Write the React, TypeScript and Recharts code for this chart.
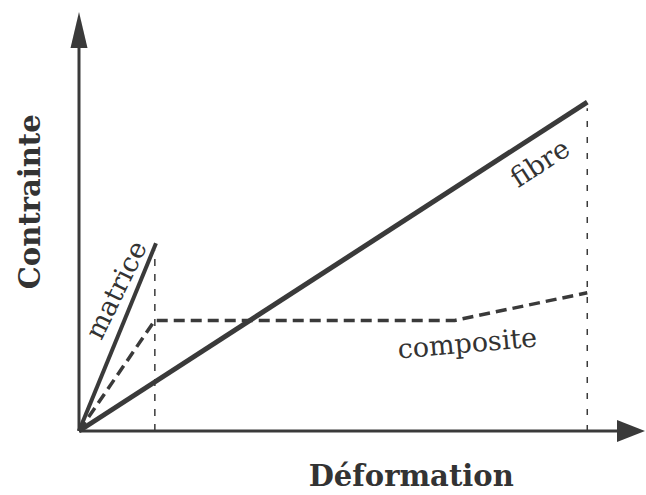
import { ComposedChart, Line, XAxis, YAxis, ReferenceLine, ReferenceDot } from 'recharts'

// strain (x) / stress (y) in arbitrary units
const matrice = [
  { x: 0, y: 0 },
  { x: 1.36, y: 4.48 },
]
const fibre = [
  { x: 0, y: 0 },
  { x: 8.98, y: 7.85 },
]
const composite = [
  { x: 0, y: 0 },
  { x: 1.34, y: 2.64 },
  { x: 6.64, y: 2.64 },
  { x: 8.98, y: 3.3 },
]
const ruptureMatrice = { x: 1.34, yTop: 4.3 }
const ruptureFibre = { x: 8.98, yTop: 7.7 }

const INK = '#3a3a3a'
const SERIF = '"DejaVu Serif", "Liberation Serif", serif'

type Seg = { x1: number; y1: number; x2: number; y2: number }

function ArrowAxis(props: any) {
  const { x1, y1, x2, y2 } = props as Seg
  const dx = x2 - x1
  const dy = y2 - y1
  const len = Math.sqrt(dx * dx + dy * dy) || 1
  const ux = dx / len
  const uy = dy / len
  const headLen = props.headLen ?? 30
  const headW = props.headW ?? 9
  const bx = x2 - ux * headLen
  const by = y2 - uy * headLen
  const px = -uy * headW
  const py = ux * headW
  return (
    <g>
      <line x1={x1} y1={y1} x2={bx} y2={by} stroke={INK} strokeWidth={3} />
      <polygon
        points={`${x2},${y2} ${bx + px},${by + py} ${bx - px},${by - py}`}
        fill={INK}
      />
    </g>
  )
}

function textShape(label: string, angle: number, size: number, bold = false) {
  return (p: any) => (
    <text
      x={p.cx}
      y={p.cy}
      textAnchor="middle"
      dominantBaseline="central"
      transform={`rotate(${angle}, ${p.cx}, ${p.cy})`}
      fontFamily={SERIF}
      fontSize={size}
      fontWeight={bold ? 'bold' : 'normal'}
      fill="#333"
    >
      {label}
    </text>
  )
}

export default function App() {
  return (
    <div style={{ position: 'absolute', left: 0, top: 0, background: '#fff' }}>
      <ComposedChart
        width={646}
        height={495}
        margin={{ top: 12, right: 1, bottom: 64, left: 79 }}
      >
        <XAxis type="number" dataKey="x" domain={[0, 10]} hide />
        <YAxis type="number" dataKey="y" domain={[0, 10]} hide />

        <ReferenceLine
          segment={[{ x: ruptureMatrice.x, y: 0 }, { x: ruptureMatrice.x, y: ruptureMatrice.yTop }]}
          stroke={INK}
          strokeWidth={1.5}
          strokeDasharray="7 8"
        />
        <ReferenceLine
          segment={[{ x: ruptureFibre.x, y: 0 }, { x: ruptureFibre.x, y: ruptureFibre.yTop }]}
          stroke={INK}
          strokeWidth={1.5}
          strokeDasharray="6 10"
        />

        <Line
          data={matrice}
          dataKey="y"
          stroke={INK}
          strokeWidth={4}
          dot={false}
          isAnimationActive={false}
        />
        <Line
          data={fibre}
          dataKey="y"
          stroke={INK}
          strokeWidth={5}
          dot={false}
          isAnimationActive={false}
        />
        <Line
          data={composite}
          dataKey="y"
          stroke={INK}
          strokeWidth={3.5}
          strokeDasharray="11 6"
          dot={false}
          isAnimationActive={false}
        />

        <ReferenceLine
          segment={[{ x: 0, y: 0 }, { x: 0, y: 10 }]}
          shape={(p: any) => <ArrowAxis {...p} headLen={36} headW={8.5} />}
        />
        <ReferenceLine
          segment={[{ x: 0, y: 0 }, { x: 10, y: 0 }]}
          shape={(p: any) => <ArrowAxis {...p} headLen={28} headW={11} />}
        />

        <ReferenceDot x={0.65} y={3.37} r={0} shape={textShape('matrice', -64, 27)} />
        <ReferenceDot x={8.14} y={6.4} r={0} shape={textShape('fibre', -33, 27)} />
        <ReferenceDot x={6.86} y={2.1} r={0} shape={textShape('composite', -5, 27)} />

        <ReferenceDot
          x={5.87}
          y={-1.08}
          r={0}
          ifOverflow="visible"
          shape={textShape('Déformation', 0, 29, true)}
        />
        <ReferenceDot
          x={-0.87}
          y={5.47}
          r={0}
          ifOverflow="visible"
          shape={textShape('Contrainte', -90, 29, true)}
        />
      </ComposedChart>
    </div>
  )
}
